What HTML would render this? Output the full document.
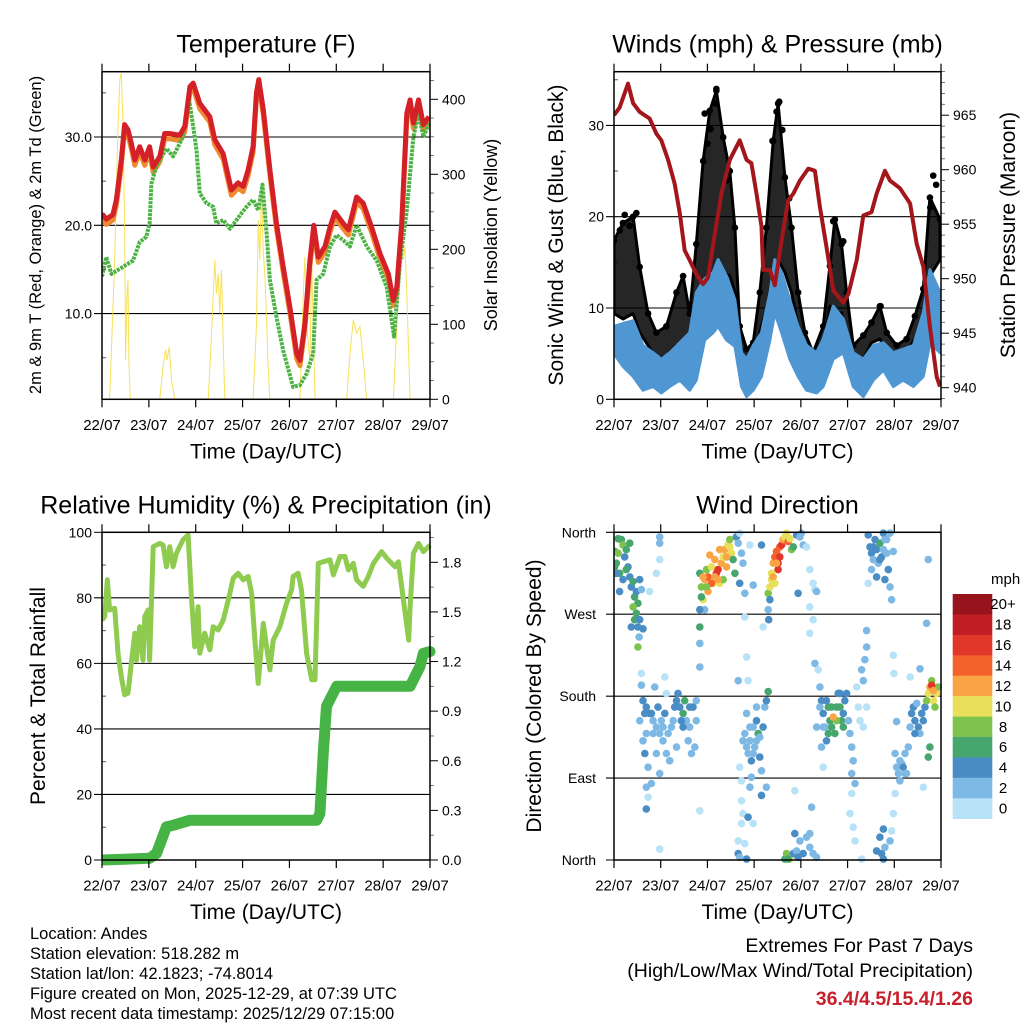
<!DOCTYPE html>
<html><head><meta charset="utf-8"><title>Station Meteogram</title>
<style>
html,body{margin:0;padding:0;background:#fff;}
svg{display:block;font-family:"Liberation Sans",Arial,sans-serif;}
</style></head>
<body>
<svg id="fig" width="1024" height="1024" viewBox="0 0 1024 1024" xmlns="http://www.w3.org/2000/svg">
<rect x="0" y="0" width="1024" height="1024" fill="#fff"/>
<g id="layer"></g>
<g font-size="16.5" fill="#000">
<text x="30" y="939">Location: Andes</text>
<text x="30" y="959">Station elevation: 518.282 m</text>
<text x="30" y="979">Station lat/lon: 42.1823; -74.8014</text>
<text x="30" y="999">Figure created on Mon, 2025-12-29, at 07:39 UTC</text>
<text x="30" y="1019">Most recent data timestamp: 2025/12/29 07:15:00</text>
</g>
<g text-anchor="end">
<text x="973" y="952" font-size="19.5">Extremes For Past 7 Days</text>
<text x="973" y="977" font-size="19.5">(High/Low/Max Wind/Total Precipitation)</text>
<text x="973" y="1005" font-size="19.5" font-weight="bold" fill="#c8202a">36.4/4.5/15.4/1.26</text>
</g>
</svg>
<script>
// ---------- DATA (time in hours since 22/07 00 UTC) ----------
var dayLabels = ["22/07","23/07","24/07","25/07","26/07","27/07","28/07","29/07"];
// Temperature panel
var tempTimes = [0,2.2,5.6,7.4,9.9,11.6,13.3,15.0,16.8,19.3,21.9,24.4,26.2,29.6,32.1,34.7,39.8,42.4,45.0,46.7,50.1,55.2,57.8,62.1,66.3,69.7,72.3,74.9,77.4,79.1,80.3,82.6,86.0,89.4,92.8,96.2,99.7,101.4,103.9,106.5,108.5,110.8,114.2,116.8,119.3,123.6,126.2,128.7,130.4,133.8,138.1,142.4,146.7,149.2,151.0,153.5,156.1,157.8,159.5,162.1,164.6,167.5];
var temp2m = [21.3,20.7,21.2,22.9,27.4,31.4,30.8,29.3,27.4,28.9,27.4,28.9,26.6,27.8,30.4,30.4,30.2,31.2,35.7,36.1,33.8,32.3,29.7,28.1,24.0,24.8,24.4,26.3,28.9,35.0,36.5,33.1,26.3,20.2,15.3,10.8,5.5,4.7,8.9,16.0,20.0,16.4,17.6,19.8,21.5,20.2,19.5,21.7,23.2,22.5,19.8,16.8,14.5,11.5,13.0,20.2,32.7,34.2,31.6,34.2,31.4,32.3];
var temp9mOffset = [0.6];
var tdTimes = [0,2.2,4.8,10.8,15.9,19.3,22.7,24.4,25.3,27.9,33.0,36.4,41.5,44.6,46.7,48.4,50.1,53.5,56.9,58.6,62.1,65.5,68.9,74.0,77.4,80.0,82.2,84.3,86.0,89.4,92.8,97.9,101.4,104.8,108.2,109.9,113.3,116.8,120.2,123.6,127.0,130.4,135.6,140.7,145.8,149.6,152.6,156.1,159.5,162.1,164.6,167.5];
var dewpoint = [14.2,16.4,14.5,15.3,16.0,18.1,18.7,20.2,24.7,26.8,28.7,27.8,30.0,34.2,31.2,28.5,23.6,22.5,22.1,20.2,20.6,19.6,20.6,22.1,22.9,21.7,24.6,19.1,13.8,9.6,5.8,1.7,1.9,3.2,5.5,13.8,14.5,17.6,18.9,18.3,17.6,20.0,17.6,16.0,13.0,7.4,15.7,21.7,30.0,32.7,30.0,31.6];
var solarTimes = [0,3.9,6.5,8.2,9.1,9.9,10.8,11.6,12.1,12.8,13.3,13.8,14.5,29.6,31.3,32.6,33.3,34.4,35.6,37.3,54.4,55.6,57.0,57.8,58.6,59.5,60.3,61.2,62.1,62.9,77.4,79.1,80.0,80.9,81.7,82.6,83.4,84.3,85.1,86.0,101.4,103.1,103.9,104.8,106.5,107.4,108.2,109.1,125.3,127.0,128.7,130.4,132.1,133.8,135.6,149.2,151.0,152.6,154.4,155.2,156.1,157.8,168];
var solar = [0,0,186,363,426,435,363,230,52,141,159,52,0,0,44,66,52,70,26,0,0,61,141,186,141,168,115,172,75,0,0,97,239,186,283,195,168,106,44,0,0,141,190,97,52,186,97,0,0,61,106,88,97,52,0,0,97,204,186,204,141,0,0];
var tempTicks = [10,20,30];
var solarTicks = [0,100,200,300,400];
// Winds panel
var presTimes = [0,2.9,7.2,9.8,13.2,18.3,21.8,24.3,27.8,31.2,33.8,36.3,38.9,42.3,45.8,48.3,51.8,55.2,59.5,64.6,68.1,70.6,73.2,75.8,76.6,80.1,82.6,86.1,89.5,92.1,95.5,99.8,103.2,105.8,109.2,112.7,117.8,120.4,124.7,128.1,132.3,134.9,139.2,141.8,146.9,152.1,155.5,158.9,162.3,165.8,167.5];
var pressure = [965.0,965.7,967.9,966.1,965.3,964.7,963.3,962.7,960.9,958.7,956.0,952.6,951.7,950.4,949.5,950.1,954.1,957.8,960.9,962.7,960.9,960.6,957.8,954.8,950.8,950.8,949.4,953.5,957.2,957.8,959.0,960.1,959.9,956.6,952.9,948.9,947.8,948.6,951.7,955.8,956.1,957.8,959.9,959.0,958.3,956.9,953.2,951.1,945.6,941.0,940.1];
var windTimes = [0,4.6,9.8,14.9,20.1,24.3,28.6,33.8,38.9,42.3,46.6,50.9,53.5,57.8,62.1,65.5,68.1,71.5,75.8,80.1,82.6,86.1,90.3,94.6,98.9,104.1,107.5,112.6,117.8,122.9,128.1,133.2,138.4,143.5,148.6,153.8,158.9,162.3,167.5];
var windLow = [5.0,3.6,2.5,1.0,1.4,0.7,1.4,2.1,1.0,2.1,6.5,7.3,8.0,6.5,5.8,1.4,0.3,1.0,2.5,6.5,9.5,7.3,4.4,2.5,1.0,0.7,1.4,4.4,5.1,1.4,0.3,2.1,3.2,1.4,2.1,1.4,2.5,6.2,5.1];
var windHigh = [8.0,8.3,8.6,5.9,5.1,4.4,5.1,6.2,7.3,11.7,13.2,13.9,15.3,13.5,10.9,5.1,4.4,5.9,7.3,11.7,15.3,13.9,10.9,8.0,5.9,5.1,6.6,10.2,8.8,5.1,4.4,5.9,6.2,5.1,5.5,5.9,9.5,14.2,11.7];
var gustTimes = [0,4.6,9.8,13.2,17.5,21.8,26.9,32.1,35.5,38.9,42.3,45.8,49.2,52.6,56.1,59.5,62.1,64.6,68.1,71.5,74.9,78.3,81.8,84.3,87.8,91.2,94.6,98.1,102.3,107.5,110.9,113.5,116.9,119.5,122.9,128.1,132.3,136.6,140.1,145.2,150.3,154.6,158.9,162.3,167.5];
var gustLow = [9.4,8.8,9.4,7.3,5.9,4.4,4.8,5.9,5.9,5.1,8.8,11.7,13.5,13.9,13.9,13.5,11.7,5.1,3.3,4.4,7.3,9.9,13.9,15.3,13.9,11.7,8.0,5.1,3.6,5.9,10.2,8.8,9.5,6.2,4.4,4.4,6.2,6.6,5.1,4.4,5.1,6.6,7.3,13.5,15.3];
var gustHigh = [17.4,19.3,20.0,14.5,9.4,7.3,8.0,11.7,13.5,9.4,17.0,26.1,31.6,33.8,28.7,25.0,18.8,8.0,5.5,6.2,11.7,18.8,28.3,32.4,24.3,18.8,11.7,7.3,5.1,8.0,14.6,19.7,17.0,11.7,5.9,7.0,8.4,10.2,7.3,5.9,6.6,9.1,12.1,22.1,19.7];
var gustPeakTimes = [52.6,52.3,46.6,49.6,84.9,83.5,81.4,5.5,11.5,164.0,112.6,117.8,137.0,3.0,8.0,48.0,58.0,86.5,90.0,162.5,165.5];
var gustPeaks = [34.0,32.4,31.3,29.6,32.6,31.5,28.3,20.2,20.4,24.5,19.5,17.3,10.2,18.5,19.0,28.0,24.0,29.5,22.0,21.0,23.5];
var windTicks = [0,10,20,30];
var presTicks = [940,945,950,955,960,965];
// RH panel
var rhTimes = [0,1.4,2.7,3.9,6.5,8.2,9.9,11.6,13.3,15.0,16.8,17.6,19.3,21.0,21.9,23.6,24.4,26.2,29.6,31.3,33.0,34.7,36.4,38.1,41.5,44.1,45.8,47.5,49.2,50.1,52.6,55.2,56.9,59.5,62.1,65.5,67.2,69.7,72.3,74.9,76.6,78.3,80.0,82.6,84.3,86.0,87.7,91.1,94.5,97.1,97.9,100.5,102.2,104.8,107.4,109.1,110.8,113.3,116.8,118.5,121.9,124.4,126.2,128.7,130.4,133.8,136.4,139.0,143.2,145.8,150.1,151.8,154.4,157.1,157.8,159.5,162.1,164.6,168];
var rh = [73.2,74.3,85.5,76.3,76.8,63.1,56.0,50.4,50.9,60.0,69.2,61.0,71.2,61.0,74.3,76.3,61.0,95.6,96.6,96.1,89.5,95.6,89.5,93.6,97.7,99.2,80.4,65.1,77.3,63.1,69.2,64.1,71.2,70.2,73.2,81.4,86.0,87.5,85.5,86.5,81.4,67.1,53.9,72.2,65.1,58.0,67.1,71.2,78.3,82.4,86.5,87.5,82.4,63.1,55.0,55.0,90.5,91.0,91.6,87.0,92.6,92.6,88.5,90.5,85.5,83.5,86.5,90.5,94.1,92.1,89.5,91.0,79.4,67.1,77.3,93.6,96.6,94.1,96.1];
var precipTimes = [0,24.4,27.9,33.0,36.4,45.0,109.9,111.6,113.3,115.0,120.2,157.8,162.9,164.6,168];
var precip = [0,0.01,0.04,0.20,0.21,0.24,0.24,0.28,0.64,0.93,1.05,1.05,1.17,1.25,1.26];
var rhTicks = [0,20,40,60,80,100];
var precipTicks = ["0.0","0.3","0.6","0.9","1.2","1.5","1.8"];
// Wind direction panel: [hours, direction deg, speed mph]
var dirObs = [
[0.3,339,6],[1.2,326,6],[2.1,337,8],[3.8,352,7],[4.6,346,8],[5.5,333,4],[6.3,341,6],[7.2,322,5],[8.1,348,7],[2.9,315,6],[4.6,308,4],[6.3,319,6],[8.1,311,5],[8.9,300,4],[9.8,306,6],[10.6,289,7],[11.5,295,4],[12.3,282,7],[13.2,308,4],[9.8,278,8],[11.5,271,7],[10.6,264,6],[13.2,264,5],[12.3,256,4],[14.9,254,4],[8.9,256,4],[14.1,297,3],[12.3,234,8],[12.9,245,3],[2.9,295,4],[1.2,315,5],[0.3,322,6],[2.1,353,7],
[23.5,355,2],[23.5,348,3],[23.5,330,1],[21.8,315,1],[18.3,295,1],
[14.1,192,3],[14.9,175,4],[16.6,168,4],[18.3,161,4],[20.1,153,3],[21.8,146,3],[23.5,139,2],[25.2,131,3],[26.9,117,2],[16.6,139,3],[15.8,117,4],[17.5,102,3],[16.6,80,2],[17.5,69,1],[16.6,56,4],[19.2,161,4],[20.9,190,3],[22.6,168,4],[24.3,153,3],[26.1,161,4],[27.8,139,3],[29.5,146,3],[31.2,168,4],[32.9,183,4],[33.8,168,5],[35.5,161,6],[36.3,175,6],[37.2,153,3],[38.9,146,3],[40.6,168,4],[42.3,153,3],[39.8,117,2],[41.5,124,3],[42.3,175,3],[23.5,95,3],[19.2,84,2],[26.9,183,1],[26.1,201,1],[23.5,12,1],[44.1,54,1],[14.1,205,1],[28.6,109,2],[32.1,124,2],[21.8,117,3],[13.2,153,2],[14.9,131,3],[38.9,168,4],[34.6,153,4],[15.8,161,4],[20.1,139,2],[25.2,146,2],[30.4,153,2],[38.1,131,2],[32.1,175,4],[35.5,146,4],
[44.1,315,6],[44.9,300,8],[45.8,286,10],[46.6,308,12],[47.5,319,9],[48.3,295,12],[49.2,335,13],[50.1,322,11],[50.9,304,10],[51.8,330,12],[52.6,315,16],[53.5,319,16],[54.3,304,11],[55.2,326,12],[56.1,333,11],[56.9,341,12],[57.8,322,12],[58.6,346,10],[59.5,344,10],[60.3,337,10],[61.2,330,7],[62.1,315,6],[56.1,308,8],[46.6,275,3],[44.1,275,4],[44.1,256,6],[44.1,238,3],[44.1,212,3],[62.9,355,4],[63.8,348,3],[64.6,359,1],[65.5,337,2],[66.3,326,2],[64.6,304,4],[67.2,293,2],[68.1,223,1],[63.8,197,3],[71.5,302,3],[69.8,346,1],[75.8,346,4],[67.2,267,1],[44.9,289,7],[48.3,311,14],[54.3,341,12],[59.5,352,9],[45.8,311,12],[50.1,304,14],[51.8,311,13],[57.8,333,12],[47.5,300,9],[53.5,308,12],
[64.6,102,1],[65.5,87,1],[66.3,131,2],[67.2,139,3],[68.1,161,2],[68.9,117,3],[69.8,131,3],[70.6,109,4],[71.5,146,2],[72.3,124,3],[73.2,153,4],[74.1,139,3],[74.9,113,4],[75.8,98,3],[76.6,146,4],[77.5,168,3],[78.3,175,4],[79.2,185,6],[74.1,139,7],[69.8,80,3],[70.6,91,2],[65.5,65,1],[66.3,51,1],[65.5,40,1],[63.8,21,1],[63.8,7,4],[67.2,18,1],[68.1,1,4],[64.6,3,2],[68.9,47,4],[71.5,40,1],[75.8,71,4],[78.3,80,3],[73.2,168,2],[68.9,197,1],[68.1,124,2],[71.5,117,2],[69.8,146,2],[73.2,131,2],[74.9,135,3],
[79.2,293,8],[80.1,300,10],[80.9,315,10],[81.8,326,12],[82.6,333,14],[83.5,339,14],[84.3,326,16],[85.2,344,14],[86.1,346,16],[86.9,352,12],[87.8,355,10],[88.6,357,10],[89.5,350,14],[90.3,353,11],[91.2,341,8],[92.1,344,7],[80.9,308,10],[84.3,319,16],[80.1,286,4],[79.2,275,3],[79.5,264,4],[76.6,256,1],[93.8,357,4],[95.5,355,3],[96.3,359,3],[94.6,293,4],[97.2,346,2],[98.9,344,1],[100.6,319,1],[102.3,304,1],[103.2,297,1],[104.1,295,2],[100.6,278,1],[102.3,264,1],[100.6,249,1],[88.6,359,11],[81.8,311,12],[85.2,333,16],[83.5,326,12],[82.6,304,10],
[87.8,1,7],[88.6,7,8],[90.3,1,10],[92.1,7,4],[92.9,29,4],[93.8,10,3],[95.5,21,3],[97.2,7,4],[98.9,25,2],[100.6,14,2],[102.3,7,2],[104.1,3,2],[100.6,29,2],[92.9,76,1],[101.5,58,2],[89.5,1,6],[94.6,3,4],
[103.2,216,2],[104.9,209,1],[105.8,190,3],[106.6,175,4],[107.5,161,4],[108.3,146,3],[109.2,131,5],[110.1,168,7],[110.9,153,6],[111.8,146,7],[113.5,139,7],[114.3,168,6],[115.2,183,4],[116.1,168,7],[116.9,153,6],[117.8,161,5],[118.6,175,4],[119.5,183,4],[120.4,153,3],[121.2,139,2],[122.1,124,2],[122.9,109,2],[122.1,95,2],[123.8,84,2],[122.1,73,1],[121.2,51,1],[122.9,36,1],[123.8,21,1],[127.2,1,1],[124.7,190,1],[125.5,168,1],[126.4,153,1],[128.1,146,1],[129.8,168,1],[127.2,209,2],[128.9,220,2],[128.1,197,2],[129.8,234,2],[129.8,252,3],[106.6,124,2],[107.5,102,1],[104.1,146,3],[110.1,139,6],[111.8,168,6],[105.8,168,3],[107.5,146,3],[117.8,146,6],[114.3,153,8],[109.2,175,4],[116.1,183,4],[112.6,157,12],
[130.6,357,4],[131.5,344,4],[132.3,337,4],[133.2,330,3],[134.1,352,4],[134.9,341,4],[135.8,326,3],[136.6,348,6],[137.5,333,4],[138.4,359,4],[139.2,352,3],[140.1,337,3],[140.9,319,4],[141.8,300,3],[142.6,286,2],[132.3,319,3],[130.6,304,1],[141.8,359,3],[143.5,339,2],[139.2,308,4],[134.9,311,4],[133.2,344,4],[136.6,330,4],[138.4,341,3],[140.1,352,3],
[134.9,10,4],[136.6,25,4],[137.5,7,4],[138.4,1,4],[139.2,14,2],[141.8,21,2],[142.6,32,1],[143.5,51,1],[144.4,73,1],[138.4,34,4],
[143.5,225,1],[143.8,205,1],[144.4,117,2],[145.2,102,2],[146.1,95,3],[146.9,87,2],[147.8,106,3],[148.6,102,4],[149.5,117,3],[150.3,95,2],[151.2,124,2],[152.1,146,3],[152.9,161,4],[153.8,168,4],[154.6,153,4],[155.5,172,3],[156.4,146,4],[157.2,139,3],[158.1,161,4],[158.9,153,4],[159.8,168,4],[160.6,175,8],[161.5,183,10],[162.3,190,12],[163.2,197,8],[164.1,175,10],[164.9,168,8],[165.8,183,10],[166.6,190,8],[162.3,124,6],[161.5,113,6],[158.9,80,1],[152.1,201,1],[157.2,210,3],[161.5,330,2],[160.6,260,2],[145.2,152,3],[163.2,192,16],[164.1,186,12],[146.9,109,2],[149.5,95,2],[154.6,139,4]
];
var dirTicks = [0,90,180,270,360];
var dirTickLabels = ["North","East","South","West","North"];
var speedBins = ["0","2","4","6","8","10","12","14","16","18","20+"];
var speedColors = ["#b8e2f7","#7db9e4","#4a8cc4","#46a66e","#7ec34d","#e8e05a","#f9a545","#f2622a","#e0372a","#be1e24","#98141c"];

// ---------- helpers ----------
var NS = "http://www.w3.org/2000/svg";
var layer = document.getElementById("layer");
function el(tag, attrs, parent) {
  var e = document.createElementNS(NS, tag);
  for (var k in attrs) e.setAttribute(k, attrs[k]);
  (parent || layer).appendChild(e);
  return e;
}
function txt(s, x, y, size, anchor, parent, rot) {
  var t = el("text", {x: x, y: y, "font-size": size, "text-anchor": anchor || "middle", fill: "#000"}, parent);
  if (rot) t.setAttribute("transform", "rotate(-90 " + x + " " + y + ")");
  t.textContent = s;
  return t;
}
function pts(xs, ys, fx, fy) {
  var a = [];
  for (var i = 0; i < xs.length; i++) a.push(fx(xs[i]).toFixed(1) + "," + fy(ys[i]).toFixed(1));
  return a.join(" ");
}
function makeX(x0, x1) { return function (h) { return x0 + h / 168 * (x1 - x0); }; }
function lin(v0, p0, v1, p1) { return function (v) { return p0 + (v - v0) / (v1 - v0) * (p1 - p0); }; }

function frameAndTimeAxis(g, x0, y0, x1, y1, X, title, xtitle, namePrefix) {
  for (var d = 0; d < dayLabels.length; d++) {
    var xx = X(d * 24);
    var tb = el("line", {x1: xx, y1: y1, x2: xx, y2: y1 + 8, stroke: "#000", "stroke-width": 1.2}, g);
    
    
    el("line", {x1: xx, y1: y0, x2: xx, y2: y0 - 8, stroke: "#000", "stroke-width": 1.2}, g);
    var lt = txt(dayLabels[d], xx, y1 + 30.5, 15, "middle", g);
    
    
  }
  var tt = txt(title, (x0 + x1) / 2, y0 - 19, 25, "middle", g);
  
  
  var xt = txt(xtitle, (x0 + x1) / 2, y1 + 59, 21, "middle", g);
  
  
}
function frameRect(g, x0, y0, x1, y1, name) {
  var r = el("rect", {x: x0, y: y0, width: x1 - x0, height: y1 - y0, fill: "none", stroke: "#000", "stroke-width": 1.5}, g);
  
  
}
function hgrid(g, x0, x1, y) {
  el("line", {x1: x0 - 8, y1: y, x2: x1, y2: y, stroke: "#000", "stroke-width": 1.1}, g);
}
function rightTicks(g, x1, ys, minorYs) {
  ys.forEach(function (y) { el("line", {x1: x1, y1: y, x2: x1 + 8, y2: y, stroke: "#000", "stroke-width": 1}, g); });
  minorYs.forEach(function (y) { el("line", {x1: x1, y1: y, x2: x1 + 4, y2: y, stroke: "#555", "stroke-width": 0.8}, g); });
}

// ---------- Panel 1: Temperature ----------
(function () {
  var x0 = 102, x1 = 430, y0 = 71.7, y1 = 399.3;
  var g = el("g", {});
  
  
  var X = makeX(x0, x1);
  var Yt = lin(30, 137, 10, 313.6);
  var Ys = lin(0, 399.3, 400, 99.3);
  var clip = el("clipPath", {id: "clipT"}, g);
  el("rect", {x: x0, y: y0, width: x1 - x0, height: y1 - y0}, clip);
  tempTicks.forEach(function (v) {
    hgrid(g, x0, x1, Yt(v));
    var l = txt(v.toFixed(1), x0 - 10, Yt(v) + 5, 14, "end", g);
    
    
  });
  [5, 15, 25, 35].forEach(function (v) { el("line", {x1: x0, y1: Yt(v), x2: x0 + 4, y2: Yt(v), stroke: "#555"}, g); });
  var minors = [];
  for (var s = 25; s <= 425; s += 25) if (s % 100) minors.push(Ys(s));
  rightTicks(g, x1, solarTicks.map(Ys), minors);
  solarTicks.forEach(function (v) {
    var l = txt(String(v), x1 + 12, Ys(v) + 5, 14, "start", g);
    
    
  });
  var pg = el("g", {"clip-path": "url(#clipT)"}, g);
  var sl = el("polyline", {points: pts(solarTimes, solar, X, Ys), fill: "none", stroke: "#f7dc3c", "stroke-width": 1, "stroke-opacity": 0.85}, pg);
  
  
  var t9 = temp2m.map(function (v) { return v - temp9mOffset[0]; });
  var ol = el("polyline", {points: pts(tempTimes, t9, X, Yt), fill: "none", stroke: "#f08a30", "stroke-width": 5, "stroke-linejoin": "round"}, pg);
  
  
  var gl = el("polyline", {points: pts(tdTimes, dewpoint, X, Yt), fill: "none", stroke: "#4cb244", "stroke-width": 4, "stroke-dasharray": "3 1", "stroke-linejoin": "round"}, pg);
  
  
  var rl = el("polyline", {points: pts(tempTimes, temp2m, X, Yt), fill: "none", stroke: "#d42027", "stroke-width": 5, "stroke-linejoin": "round"}, pg);
  
  
  frameRect(g, x0, y0, x1, y1, "temperature-plot-frame");
  frameAndTimeAxis(g, x0, y0, x1, y1, X, "Temperature (F)", "Time (Day/UTC)", "temperature");
  var a = txt("2m & 9m T (Red, Orange) & 2m Td (Green)", 41, 235, 16.5, "middle", g, true);
  
  
  var b = txt("Solar Insolation (Yellow)", 497, 235, 18, "middle", g, true);
  
  
})();

// ---------- Panel 2: Winds & Pressure ----------
(function () {
  var x0 = 614, x1 = 941, y0 = 71.7, y1 = 399.3;
  var g = el("g", {});
  
  
  var X = makeX(x0, x1);
  var Yw = lin(0, 399.3, 30, 125.4);
  var Yp = lin(940, 387.7, 965, 115.2);
  var clip = el("clipPath", {id: "clipW"}, g);
  el("rect", {x: x0, y: y0, width: x1 - x0, height: y1 - y0}, clip);
  windTicks.forEach(function (v) {
    hgrid(g, x0, x1, Yw(v));
    var l = txt(String(v), x0 - 10, Yw(v) + 5, 14, "end", g);
    
    
  });
  [5, 15, 25, 35].forEach(function (v) { el("line", {x1: x0, y1: Yw(v), x2: x0 + 4, y2: Yw(v), stroke: "#555"}, g); });
  var minors = [];
  for (var p = 939; p <= 969; p++) if (p % 5) minors.push(Yp(p));
  rightTicks(g, x1, presTicks.map(Yp), minors);
  presTicks.forEach(function (v) {
    var l = txt(String(v), x1 + 12, Yp(v) + 5, 14, "start", g);
    
    
  });
  var pg = el("g", {"clip-path": "url(#clipW)"}, g);
  var up = pts(gustTimes, gustHigh, X, Yw);
  var dn = pts(gustTimes.slice().reverse(), gustLow.slice().reverse(), X, Yw);
  var ga = el("polygon", {points: up + " " + dn, fill: "#000", "fill-opacity": 0.85, stroke: "#000", "stroke-width": 3, "stroke-linejoin": "round"}, pg);
  
  
  for (var i = 0; i < gustTimes.length; i++) {
    var c = el("circle", {cx: X(gustTimes[i]), cy: Yw(gustHigh[i]), r: 3.3, fill: "#000"}, pg);
    
    
  }
  for (var j = 0; j < gustPeakTimes.length; j++) {
    var c2 = el("circle", {cx: X(gustPeakTimes[j]), cy: Yw(gustPeaks[j]), r: 3.3, fill: "#000"}, pg);
    
    
  }
  var wu = pts(windTimes, windHigh, X, Yw);
  var wd = pts(windTimes.slice().reverse(), windLow.slice().reverse(), X, Yw);
  var wa = el("polygon", {points: wu + " " + wd, fill: "#4f97d2", stroke: "#4f97d2", "stroke-width": 3, "stroke-linejoin": "round"}, pg);
  
  
  var pl = el("polyline", {points: pts(presTimes, pressure, X, Yp), fill: "none", stroke: "#a3161c", "stroke-width": 4, "stroke-linejoin": "round"}, pg);
  
  
  frameRect(g, x0, y0, x1, y1, "winds-plot-frame");
  frameAndTimeAxis(g, x0, y0, x1, y1, X, "Winds (mph) & Pressure (mb)", "Time (Day/UTC)", "winds");
  var a = txt("Sonic Wind & Gust (Blue, Black)", 563, 235, 21, "middle", g, true);
  
  
  var b = txt("Station Pressure (Maroon)", 1015, 235, 21, "middle", g, true);
  
  
})();

// ---------- Panel 3: RH & Precip ----------
(function () {
  var x0 = 102, x1 = 430, y0 = 532.3, y1 = 860;
  var g = el("g", {});
  
  
  var X = makeX(x0, x1);
  var Yr = lin(0, 860, 100, 532.3);
  var Yq = lin(0, 860, 1.8, 562.3);
  var clip = el("clipPath", {id: "clipR"}, g);
  el("rect", {x: x0, y: y0 - 2, width: x1 - x0 + 6, height: y1 - y0 + 8}, clip);
  rhTicks.forEach(function (v) {
    if (v > 0 && v < 100) hgrid(g, x0, x1, Yr(v)); else el("line", {x1: x0 - 8, y1: Yr(v), x2: x0, y2: Yr(v), stroke: "#000"}, g);
    var l = txt(String(v), x0 - 10, Yr(v) + 5, 14, "end", g);
    
    
  });
  [10, 30, 50, 70, 90].forEach(function (v) { el("line", {x1: x0, y1: Yr(v), x2: x0 + 4, y2: Yr(v), stroke: "#555"}, g); });
  var majors = precipTicks.map(function (s) { return Yq(parseFloat(s)); });
  var minors = [];
  for (var q = 0.15; q < 1.98; q += 0.3) minors.push(Yq(q));
  rightTicks(g, x1, majors, minors);
  precipTicks.forEach(function (s) {
    var l = txt(s, x1 + 12, Yq(parseFloat(s)) + 5, 14, "start", g);
    
    
  });
  var pg = el("g", {"clip-path": "url(#clipR)"}, g);
  var rl = el("polyline", {points: pts(rhTimes, rh, X, Yr), fill: "none", stroke: "#8fcb4f", "stroke-width": 5, "stroke-linejoin": "round"}, pg);
  
  
  var ql = el("polyline", {points: pts(precipTimes, precip, X, Yq), fill: "none", stroke: "#46b445", "stroke-width": 11, "stroke-linejoin": "round", "stroke-linecap": "round"}, pg);
  
  
  frameRect(g, x0, y0, x1, y1, "humidity-plot-frame");
  frameAndTimeAxis(g, x0, y0, x1, y1, X, "Relative Humidity (%) & Precipitation (in)", "Time (Day/UTC)", "humidity");
  var a = txt("Percent & Total Rainfall", 45, 696, 21, "middle", g, true);
  
  
})();

// ---------- Panel 4: Wind direction ----------
(function () {
  var x0 = 614, x1 = 941, y0 = 532.3, y1 = 860;
  var g = el("g", {});
  
  
  var X = makeX(x0, x1);
  var Yd = lin(0, 860, 360, 532.3);
  dirTicks.forEach(function (v, i) {
    hgrid(g, x0, x1, Yd(v));
    var l = txt(dirTickLabels[i], x0 - 18, Yd(v) + 5, 14, "end", g);
    
    
  });
  var clip = el("clipPath", {id: "clipD"}, g);
  el("rect", {x: x0, y: y0 - 4, width: x1 - x0 + 4, height: y1 - y0 + 8}, clip);
  var pg = el("g", {"clip-path": "url(#clipD)"}, g);
  dirObs.forEach(function (o) {
    var idx = Math.min(10, Math.floor(o[2] / 2));
    var c = el("circle", {cx: X(o[0]).toFixed(1), cy: Yd(o[1]).toFixed(1), r: 3.8, fill: speedColors[idx]}, pg);
    
    
  });
  frameRect(g, x0, y0, x1, y1, "direction-plot-frame");
  frameAndTimeAxis(g, x0, y0, x1, y1, X, "Wind Direction", "Time (Day/UTC)", "direction");
  var a = txt("Direction (Colored By Speed)", 541, 696, 21, "middle", g, true);
  
  
  var cb = el("g", {}, g);
  
  
  var top = 594, h = 224.7 / 11;
  var u = txt("mph", 991, 584, 15, "start", cb);
  
  
  for (var i = 0; i < 11; i++) {
    var k = 10 - i;
    var r = el("rect", {x: 952.7, y: (top + i * h).toFixed(1), width: 39.6, height: (h + 0.3).toFixed(1), fill: speedColors[k]}, cb);
    
    
    var l = txt(speedBins[k], 1003, top + i * h + h / 2 + 5, 15, "middle", cb);
    
    
  }
})();
</script>
</body></html>
